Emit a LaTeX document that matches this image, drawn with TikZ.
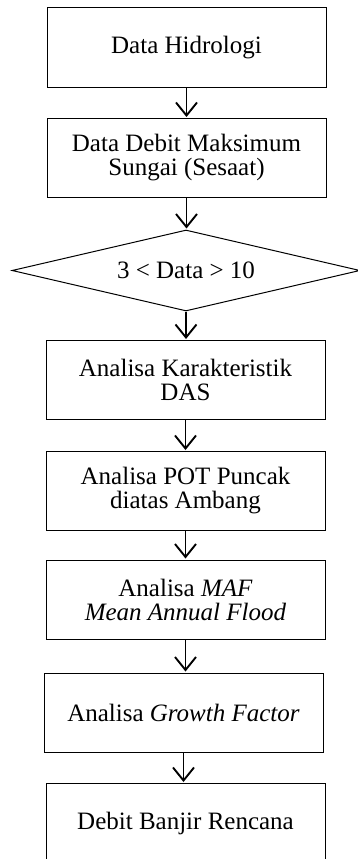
\documentclass[tikz,border=0pt]{standalone}
\usepackage{fontspec}
\setmainfont{Liberation Serif}
\usepackage{tikz}
\usetikzlibrary{arrows.meta,positioning,shapes.geometric}

\begin{document}
\begin{tikzpicture}[x=1pt,y=1pt,
    font=\fontsize{25}{24}\selectfont,
    stepbox/.style={draw=black, line width=1pt, minimum width=279pt,
                    minimum height=79pt, inner sep=0pt, align=center},
    cond/.style={draw=black, line width=1pt, diamond, aspect=4.3,
                 minimum width=348pt, minimum height=81pt, inner sep=0pt},
    flow/.style={line width=1.9pt,
                 -{Straight Barb[length=13pt,width=21pt,line width=1.9pt]},
                 shorten >=1pt}]
  \useasboundingbox (0,0) rectangle (357,-859);
  % boxes
  \node[stepbox] (hidro) at (186.5,-47.5) {Data Hidrologi};
  \node[stepbox] (debit) at (186.5,-158) {Data Debit Maksimum\\Sungai (Sesaat)};
  \node[cond]    (cek)   at (186,-270.5) {3 < Data > 10};
  \node[stepbox] (das)   at (185.5,-380) {Analisa Karakteristik\\DAS};
  \node[stepbox] (pot)   at (185.5,-491) {Analisa POT Puncak\\diatas Ambang};
  \node[stepbox] (maf)   at (185.5,-599.5) {Analisa \textit{MAF}\\\textit{Mean Annual Flood}};
  \node[stepbox] (gf)    at (183.5,-712.5) {Analisa \textit{Growth Factor}};
  \node[stepbox] (banjir) at (185.5,-823) {Debit Banjir Rencana};
  % arrows
  \foreach \a/\b in {hidro/debit, debit/cek, cek/das, das/pot, pot/maf, maf/gf, gf/banjir}{
    \draw[flow] (\a.south) -- (\a.south |- \b.north);
  }
\end{tikzpicture}
\end{document}
